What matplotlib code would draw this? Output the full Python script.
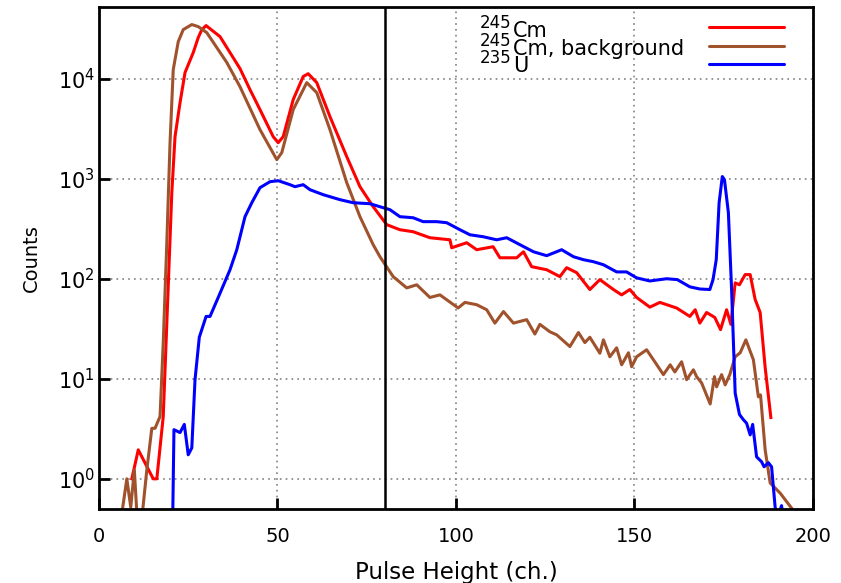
import matplotlib
matplotlib.use("Agg")
import matplotlib.pyplot as plt
import matplotlib.transforms as mtransforms
from matplotlib.ticker import NullLocator, FixedLocator

plt.rcParams['font.family'] = ['DejaVu Sans']
plt.rcParams['mathtext.fontset'] = 'dejavusans'

# 245Cm
cm_x = [9.2, 11, 15.2, 16.2, 18, 20.4, 21.3, 22.7, 24.1, 26.4, 27.8, 28.8, 30, 33.9, 39.5, 42.3,
        45.1, 48.8, 50.2, 51.6, 54.4, 57.2, 58.6, 61, 64.7, 69.4, 73.1, 76.8, 78.7, 80.6, 84.3, 88,
        92.7, 98.3, 98.8, 103, 105.8, 110.4, 112.3, 117, 118.9, 121.2, 125.4, 129.1, 131, 133.8,
        137.5, 140.3, 144.1, 146.4, 148.7, 150.6, 154.3, 157.1, 161.8, 165.5, 167, 168.3, 170.2,
        172.5, 174.1, 175.8, 177, 178.2, 179.4, 181, 182.4, 183.8, 185.2, 186.6, 188.2]
cm_y = [1.0, 1.95, 1.0, 1.0, 4.2, 724, 2630, 5750, 11500, 18200, 25700, 30900, 33900, 26300, 12600,
        7760, 4900, 2630, 2290, 2630, 6170, 10500, 11200, 9120, 4170, 1660, 832, 525, 427, 347, 309,
        295, 257, 245, 204, 229, 195, 209, 162, 162, 186, 132, 123, 105, 129, 115, 78, 98, 78, 69,
        78, 65, 52, 58, 51, 42, 49, 36, 46, 41, 31, 49, 35, 91, 87, 110, 110, 62, 46, 13, 4.1]

# 245Cm background
bg_x = [6.4, 7.8, 8.9, 9.9, 10.7, 12, 13.4, 14.8, 15.7, 17.1, 18, 19, 19.9, 20.8, 22.2, 23.6, 26,
        27.8, 30.2, 35.8, 39.5, 45.1, 49.8, 51.2, 54.4, 58.2, 61, 64.7, 69.4, 73.1, 76.8, 78.7, 82.4,
        86.2, 89, 92.7, 95.5, 100.6, 102.5, 105.8, 108.6, 110.9, 113.3, 116.1, 119.8, 122.1, 123.5,
        126.3, 128.2, 131.9, 134.3, 136.1, 137.5, 140.3, 141.3, 143.1, 145, 146.4, 148.3, 149.2,
        150.6, 153.4, 155.3, 158.1, 160, 161.3, 163.2, 164.6, 166.5, 167.4, 168.8, 171.2, 172.4, 173,
        174.4, 175.4, 176.7, 178.2, 179.6, 181.2, 183.3, 184.7, 185.3, 186.6, 188, 190.8, 194]
bg_y = [0.45, 1.0, 0.52, 1.23, 0.4, 0.4, 1.23, 3.2, 3.2, 4.2, 23, 229, 2290, 12300, 23400, 30900,
        34700, 33100, 28800, 14500, 8300, 3090, 1550, 1820, 4900, 9120, 7240, 3090, 912, 417, 219,
        166, 105, 81, 87, 65, 69, 51, 58, 55, 49, 36, 47, 36, 39, 28, 35, 29.5, 27.5, 21, 29, 23, 26,
        18, 24.5, 16.6, 20.4, 13.8, 18.2, 13.2, 16.6, 19.5, 15.5, 11, 13.8, 11.7, 14.8, 9.8, 12.3,
        10.5, 9.1, 5.6, 10.5, 8.3, 11, 8.7, 11, 16.6, 18.2, 24.5, 15.5, 6.6, 6.9, 1.95, 0.91, 0.72,
        0.51]

# 235U
u_x = [20.6, 21, 22.7, 23.9, 25, 26, 26.9, 28.1, 30, 31.1, 33.4, 36.7, 38.6, 40.9, 42.8, 45.1,
       47.9, 50.2, 53.5, 54.9, 57.2, 59.1, 62.8, 67.5, 71.2, 75.9, 79.6, 81.5, 84.3, 88, 90.8, 94.6,
       97.4, 101.1, 103.9, 107.6, 111.4, 114.2, 117.9, 121.7, 125.4, 129.6, 132.9, 135.7, 138.5,
       141.3, 145, 147.8, 150.6, 154.3, 159, 162, 165.5, 168.3, 171.1, 172, 172.9, 173.7, 174.6,
       175.2, 176.3, 177.2, 178.2, 179.4, 180.5, 181.4, 182.4, 183.1, 184.2, 185.6, 186.3, 187.5,
       188.4, 189.4, 190, 191.2, 191.6]
u_y = [0.3, 3.1, 2.9, 3.5, 1.74, 2.04, 9.8, 26, 42, 42, 65, 123, 195, 417, 575, 813, 933, 955,
       871, 832, 871, 776, 692, 617, 575, 562, 513, 490, 417, 407, 372, 372, 363, 309, 275, 263,
       245, 257, 219, 186, 170, 195, 166, 155, 148, 138, 117, 117, 102, 95, 100, 98, 83, 79, 78, 98,
       155, 575, 1050, 977, 457, 78, 7.2, 4.4, 3.9, 3.6, 2.75, 3.5, 1.66, 1.48, 1.32, 1.45, 1.32,
       0.52, 0.4, 0.54, 0.4]

label_sup = ['245', '245', '235']
label_main = ['Cm', 'Cm, background', 'U']
colors = ['#ff0000', '#a0522d', '#0000ff']
x_ticks = [0, 50, 100, 150, 200]
y_ticks = [1, 10, 100, 1000, 10000]
cut_x = 80

fig = plt.figure(figsize=(8.41, 5.83), dpi=100)
ax = fig.add_axes([0.1177, 0.127, 0.8490, 0.861])

for xs, ys, c, lab in zip([cm_x, bg_x, u_x], [cm_y, bg_y, u_y], colors, label_main):
    ax.plot(xs, ys, color=c, lw=2.2, solid_joinstyle='round')

ax.axvline(cut_x, color='black', lw=1.8)

ax.set_yscale('log')
ax.set_xlim(0, 200)
ax.set_ylim(0.5, 5.2e4)
ax.xaxis.set_major_locator(FixedLocator(x_ticks))
ax.yaxis.set_major_locator(FixedLocator(y_ticks))
ax.yaxis.set_minor_locator(NullLocator())
ax.xaxis.set_minor_locator(NullLocator())
ax.grid(True, which='major', color='#808080', linestyle=(0, (1.0, 2.5)), lw=1.2)
ax.tick_params(axis='both', which='major', direction='in', length=8, width=2,
               top=False, right=False)
ax.tick_params(axis='x', pad=13, labelsize=14)
ax.tick_params(axis='y', pad=3, labelsize=15)
for s in ax.spines.values():
    s.set_linewidth(2)

ax.set_xlabel('Pulse Height (ch.)', fontsize=16.5, labelpad=11)
ax.set_ylabel('Counts', fontsize=14, labelpad=12)

# legend (gnuplot style: labels left, sample lines right)
renderer = fig.canvas.get_renderer()
base_y = [0.940, 0.904, 0.871]
line_y = [0.960, 0.922, 0.886]
sup_trans = mtransforms.offset_copy(ax.transAxes, fig=fig, x=0, y=9, units='dots')
for i in range(3):
    t1 = ax.text(0.5336, base_y[i], label_sup[i], transform=sup_trans, fontsize=12,
                 va='baseline', ha='left')
    bb = t1.get_window_extent(renderer)
    xa = ax.transAxes.inverted().transform((bb.x1 + 1, 0))[0]
    ax.text(xa, base_y[i], label_main[i], transform=ax.transAxes, fontsize=15,
            va='baseline', ha='left')
    ax.plot([0.854, 0.959], [line_y[i], line_y[i]], transform=ax.transAxes,
            color=colors[i], lw=2.2, solid_capstyle='round', clip_on=False)

fig.savefig('out.png', dpi=100)
